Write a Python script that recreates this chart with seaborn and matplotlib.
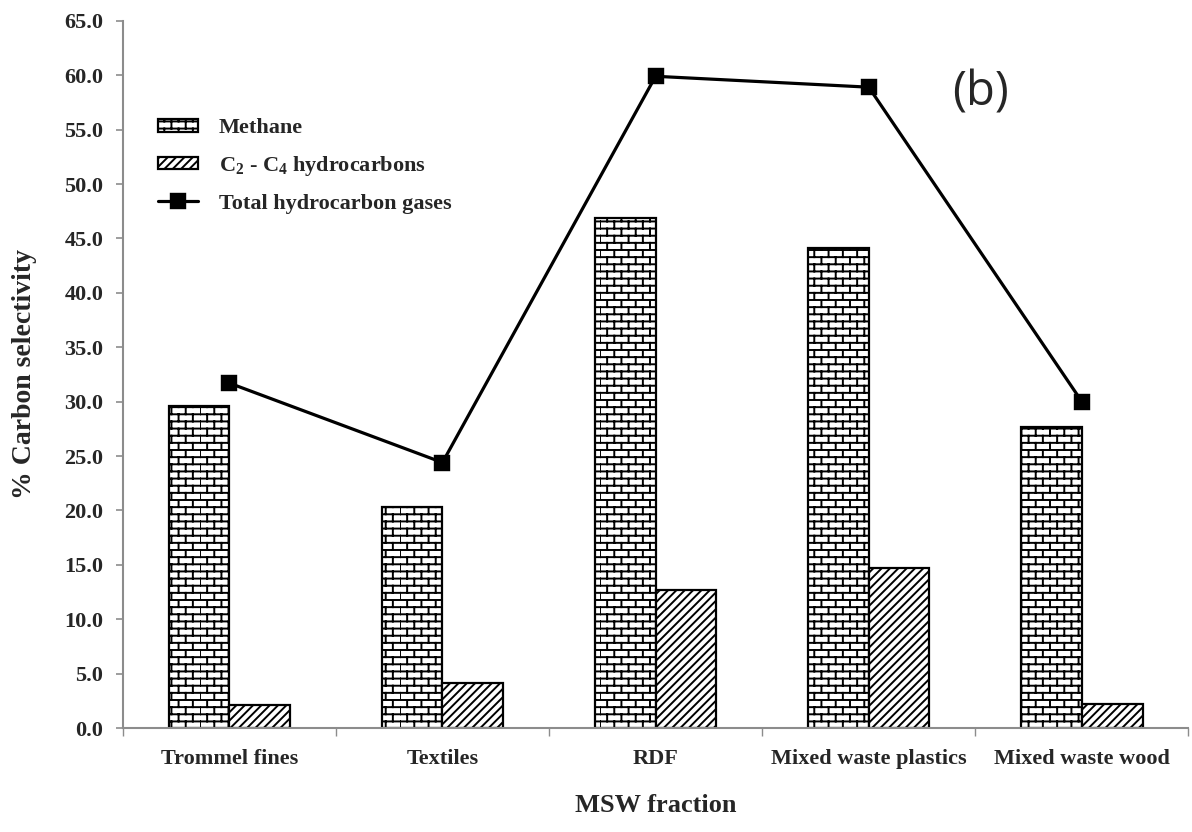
import warnings
warnings.filterwarnings("ignore")
import numpy as np
import pandas as pd
import matplotlib
matplotlib.use("Agg")
import matplotlib.pyplot as plt
import matplotlib.hatch as mhatch
from matplotlib.path import Path
from matplotlib.ticker import FormatStrFormatter, FixedLocator
import seaborn as sns

# ---------------- data ----------------
categories = ["Trommel fines", "Textiles", "RDF", "Mixed waste plastics", "Mixed waste wood"]
methane = [29.6, 20.3, 46.9, 44.1, 27.7]
c2_c4 = [2.1, 4.1, 12.7, 14.7, 2.2]
total_hc = [31.7, 24.4, 59.9, 58.9, 30.0]
series_labels = ["Methane", r"C$_2$ - C$_4$ hydrocarbons"]
line_label = "Total hydrocarbon gases"
y_ticks = np.arange(0, 65.1, 5.0)


# ---------------- custom brick hatch ----------------
class BrickHatch(mhatch.HatchPatternBase):
    def __init__(self, hatch, density):
        n = hatch.count("B")
        self.rows = 14 * n
        self.cols = 7
        if n:
            self.num_vertices = (self.rows + 1) * 2 + self.rows * self.cols * 2
        else:
            self.num_vertices = 0

    def set_vertices_and_codes(self, vertices, codes):
        k = 0
        for i in range(self.rows + 1):
            y = i / self.rows
            vertices[k] = (0, y)
            vertices[k + 1] = (1, y)
            k += 2
        for r in range(self.rows):
            off = 0.5 * (r % 2)
            for c in range(self.cols):
                x = (c + off) / self.cols
                vertices[k] = (x, r / self.rows)
                vertices[k + 1] = (x, (r + 1) / self.rows)
                k += 2
        codes[0::2] = Path.MOVETO
        codes[1::2] = Path.LINETO


mhatch._hatch_types.append(BrickHatch)

# ---------------- style ----------------
sns.set_theme(style="white")
plt.rcParams["font.family"] = ["Liberation Serif", "DejaVu Serif"]
plt.rcParams["font.weight"] = "bold"
plt.rcParams["mathtext.fontset"] = "custom"
plt.rcParams["mathtext.rm"] = "Liberation Serif:bold"
plt.rcParams["mathtext.bf"] = "Liberation Serif:bold"
plt.rcParams["mathtext.default"] = "rm"
plt.rcParams["hatch.linewidth"] = 1.4
plt.rcParams["hatch.color"] = "black"

df = pd.DataFrame({
    "fraction": categories * 2,
    "value": methane + c2_c4,
    "series": [series_labels[0]] * len(categories) + [series_labels[1]] * len(categories),
})

fig = plt.figure(figsize=(11.92, 8.32), dpi=100)
ax = fig.add_axes([0.103, 0.125, 0.894, 0.85])

sns.barplot(data=df, x="fraction", y="value", hue="series", order=categories,
            hue_order=series_labels, width=0.57, errorbar=None, ax=ax,
            legend=False, palette=["white", "white"])

hatches = ["B", "////"]
for cont, h in zip(ax.containers, hatches):
    for bar in cont:
        bar.set_hatch(h)
        bar.set_facecolor("white")
        bar.set_edgecolor("black")
        bar.set_linewidth(1.6)

sns.pointplot(x=categories, y=total_hc, order=categories, color="black",
              markers="s", markersize=10, linewidth=2.3, errorbar=None, ax=ax)
line = ax.lines[-1]
line.set_label(line_label)
line.set_zorder(5)

# axes formatting
ax.set_xlim(-0.5, len(categories) - 0.5)
ax.set_ylim(0, 65)
ax.yaxis.set_major_locator(FixedLocator(y_ticks))
ax.yaxis.set_major_formatter(FormatStrFormatter("%.1f"))
ax.xaxis.set_minor_locator(FixedLocator(np.arange(-0.5, len(categories), 1.0)))

for s in ["top", "right"]:
    ax.spines[s].set_visible(False)
for s in ["left", "bottom"]:
    ax.spines[s].set_color("#8c8c8c")
    ax.spines[s].set_linewidth(1.5)

ax.tick_params(axis="y", which="major", direction="out", length=5, width=1.2,
               color="#8c8c8c", left=True, pad=9, labelsize=16)
ax.tick_params(axis="x", which="major", length=0, pad=15, labelsize=16)
ax.tick_params(axis="x", which="minor", direction="out", length=6, width=1.0,
               color="#8c8c8c", bottom=True)
for lab in ax.get_xticklabels() + ax.get_yticklabels():
    lab.set_fontweight("bold")

ax.set_xlabel("MSW fraction", fontsize=19, fontweight="bold", labelpad=18)
ax.set_ylabel("% Carbon selectivity", fontsize=20, fontweight="bold", labelpad=20)
ax.grid(False)

ax.legend(handles=[ax.containers[0], ax.containers[1], line],
          labels=series_labels + [line_label],
          loc="upper left", bbox_to_anchor=(0.033, 0.862), frameon=False,
          prop={"family": ["Liberation Serif"], "weight": "bold", "size": 16},
          handlelength=1.8, handleheight=0.5, handletextpad=0.95,
          labelspacing=0.7, borderpad=0, borderaxespad=0)

ax.text(0.805, 0.898, "(b)", transform=ax.transAxes, ha="center", va="center",
        fontsize=34, fontweight="normal", family=["Open Sans", "DejaVu Sans"])

fig.savefig("out.png", dpi=100)
